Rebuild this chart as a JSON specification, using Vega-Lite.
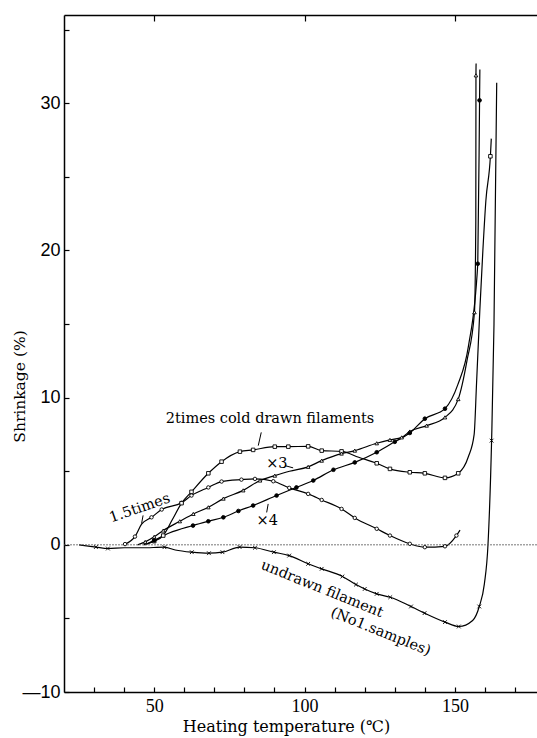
{
  "$schema": "https://vega.github.io/schema/vega-lite/v6.json",
  "width": 473,
  "height": 677,
  "autosize": "none",
  "padding": {"left": 64, "top": 15, "right": 0, "bottom": 46},
  "background": "white",
  "config": {
    "view": {"stroke": null},
    "axis": {"domainColor": "black", "domainWidth": 1.5, "tickColor": "black", "tickWidth": 1.2, "grid": false, "labelColor": "black", "titleColor": "black"}
  },
  "datasets": {
    "curves": [
      {"series": "1.5times", "t": 40.3, "s": 0.05, "m": true},
      {"series": "1.5times", "t": 43.6, "s": 0.56, "m": true},
      {"series": "1.5times", "t": 45.8, "s": 1.4, "m": false},
      {"series": "1.5times", "t": 49.1, "s": 1.87, "m": true},
      {"series": "1.5times", "t": 52.5, "s": 2.4, "m": true},
      {"series": "1.5times", "t": 59.1, "s": 2.85, "m": true},
      {"series": "1.5times", "t": 62.4, "s": 3.35, "m": true},
      {"series": "1.5times", "t": 68.0, "s": 3.9, "m": true},
      {"series": "1.5times", "t": 72.4, "s": 4.3, "m": true},
      {"series": "1.5times", "t": 79.0, "s": 4.43, "m": true},
      {"series": "1.5times", "t": 83.5, "s": 4.48, "m": true},
      {"series": "1.5times", "t": 89.6, "s": 4.32, "m": true},
      {"series": "1.5times", "t": 94.9, "s": 3.87, "m": true},
      {"series": "1.5times", "t": 101.2, "s": 3.46, "m": true},
      {"series": "1.5times", "t": 105.7, "s": 3.05, "m": true},
      {"series": "1.5times", "t": 112.3, "s": 2.44, "m": true},
      {"series": "1.5times", "t": 116.7, "s": 1.83, "m": true},
      {"series": "1.5times", "t": 124.0, "s": 1.09, "m": true},
      {"series": "1.5times", "t": 128.4, "s": 0.63, "m": true},
      {"series": "1.5times", "t": 135.0, "s": 0.07, "m": true},
      {"series": "1.5times", "t": 140.0, "s": -0.16, "m": true},
      {"series": "1.5times", "t": 146.7, "s": -0.1, "m": true},
      {"series": "1.5times", "t": 150.5, "s": 0.63, "m": true},
      {"series": "1.5times", "t": 151.7, "s": 1.0, "m": false},

      {"series": "2times", "t": 46.5, "s": 0.0, "m": false},
      {"series": "2times", "t": 50.0, "s": 0.25, "m": true},
      {"series": "2times", "t": 53.0, "s": 0.63, "m": true},
      {"series": "2times", "t": 56.0, "s": 1.7, "m": false},
      {"series": "2times", "t": 59.1, "s": 2.83, "m": true},
      {"series": "2times", "t": 62.4, "s": 3.6, "m": true},
      {"series": "2times", "t": 68.0, "s": 4.86, "m": true},
      {"series": "2times", "t": 72.4, "s": 5.65, "m": true},
      {"series": "2times", "t": 78.5, "s": 6.33, "m": true},
      {"series": "2times", "t": 82.9, "s": 6.45, "m": true},
      {"series": "2times", "t": 90.1, "s": 6.67, "m": true},
      {"series": "2times", "t": 94.6, "s": 6.67, "m": true},
      {"series": "2times", "t": 101.2, "s": 6.69, "m": true},
      {"series": "2times", "t": 105.7, "s": 6.4, "m": true},
      {"series": "2times", "t": 112.3, "s": 6.35, "m": true},
      {"series": "2times", "t": 118.0, "s": 5.95, "m": false},
      {"series": "2times", "t": 124.0, "s": 5.54, "m": true},
      {"series": "2times", "t": 128.4, "s": 5.16, "m": true},
      {"series": "2times", "t": 135.0, "s": 4.93, "m": true},
      {"series": "2times", "t": 140.0, "s": 4.86, "m": true},
      {"series": "2times", "t": 146.7, "s": 4.55, "m": true},
      {"series": "2times", "t": 151.1, "s": 4.86, "m": true},
      {"series": "2times", "t": 154.5, "s": 6.0, "m": false},
      {"series": "2times", "t": 156.4, "s": 7.5, "m": false},
      {"series": "2times", "t": 157.2, "s": 11.0, "m": false},
      {"series": "2times", "t": 158.3, "s": 16.0, "m": false},
      {"series": "2times", "t": 159.3, "s": 20.0, "m": false},
      {"series": "2times", "t": 160.3, "s": 23.4, "m": false},
      {"series": "2times", "t": 161.8, "s": 26.4, "m": true},
      {"series": "2times", "t": 162.1, "s": 27.6, "m": false},

      {"series": "x3", "t": 44.5, "s": 0.0, "m": false},
      {"series": "x3", "t": 47.0, "s": 0.2, "m": true},
      {"series": "x3", "t": 50.0, "s": 0.55, "m": true},
      {"series": "x3", "t": 53.0, "s": 0.97, "m": true},
      {"series": "x3", "t": 58.5, "s": 1.6, "m": true},
      {"series": "x3", "t": 63.0, "s": 2.1, "m": true},
      {"series": "x3", "t": 68.0, "s": 2.55, "m": true},
      {"series": "x3", "t": 73.0, "s": 3.14, "m": true},
      {"series": "x3", "t": 79.6, "s": 3.7, "m": true},
      {"series": "x3", "t": 85.2, "s": 4.37, "m": true},
      {"series": "x3", "t": 90.1, "s": 4.7, "m": true},
      {"series": "x3", "t": 95.0, "s": 5.0, "m": false},
      {"series": "x3", "t": 101.2, "s": 5.3, "m": true},
      {"series": "x3", "t": 105.7, "s": 5.72, "m": true},
      {"series": "x3", "t": 112.3, "s": 6.2, "m": true},
      {"series": "x3", "t": 116.7, "s": 6.4, "m": true},
      {"series": "x3", "t": 124.0, "s": 6.9, "m": true},
      {"series": "x3", "t": 128.4, "s": 7.13, "m": true},
      {"series": "x3", "t": 132.3, "s": 7.3, "m": true},
      {"series": "x3", "t": 135.0, "s": 7.7, "m": true},
      {"series": "x3", "t": 140.6, "s": 8.1, "m": true},
      {"series": "x3", "t": 146.7, "s": 8.66, "m": true},
      {"series": "x3", "t": 151.1, "s": 9.9, "m": true},
      {"series": "x3", "t": 154.0, "s": 12.5, "m": false},
      {"series": "x3", "t": 156.5, "s": 15.8, "m": true},
      {"series": "x3", "t": 156.95, "s": 22.0, "m": false},
      {"series": "x3", "t": 157.0, "s": 31.9, "m": true},
      {"series": "x3", "t": 157.05, "s": 32.7, "m": false},

      {"series": "x4", "t": 47.0, "s": 0.0, "m": false},
      {"series": "x4", "t": 50.0, "s": 0.3, "m": true},
      {"series": "x4", "t": 55.0, "s": 0.8, "m": false},
      {"series": "x4", "t": 62.9, "s": 1.31, "m": true},
      {"series": "x4", "t": 68.0, "s": 1.6, "m": true},
      {"series": "x4", "t": 73.0, "s": 1.87, "m": true},
      {"series": "x4", "t": 78.0, "s": 2.3, "m": true},
      {"series": "x4", "t": 82.9, "s": 2.67, "m": true},
      {"series": "x4", "t": 90.7, "s": 3.35, "m": true},
      {"series": "x4", "t": 97.3, "s": 3.9, "m": true},
      {"series": "x4", "t": 102.9, "s": 4.37, "m": true},
      {"series": "x4", "t": 109.6, "s": 5.1, "m": true},
      {"series": "x4", "t": 116.7, "s": 5.6, "m": true},
      {"series": "x4", "t": 124.0, "s": 6.29, "m": true},
      {"series": "x4", "t": 130.0, "s": 7.0, "m": true},
      {"series": "x4", "t": 135.0, "s": 7.6, "m": true},
      {"series": "x4", "t": 140.0, "s": 8.57, "m": true},
      {"series": "x4", "t": 146.7, "s": 9.25, "m": true},
      {"series": "x4", "t": 151.0, "s": 10.9, "m": false},
      {"series": "x4", "t": 154.5, "s": 13.5, "m": false},
      {"series": "x4", "t": 157.6, "s": 19.1, "m": true},
      {"series": "x4", "t": 158.2, "s": 30.2, "m": true},
      {"series": "x4", "t": 158.3, "s": 32.3, "m": false},

      {"series": "undrawn", "t": 25.0, "s": 0.0, "m": false},
      {"series": "undrawn", "t": 30.6, "s": -0.15, "m": true},
      {"series": "undrawn", "t": 34.6, "s": -0.25, "m": true},
      {"series": "undrawn", "t": 40.0, "s": -0.2, "m": false},
      {"series": "undrawn", "t": 46.0, "s": -0.2, "m": false},
      {"series": "undrawn", "t": 53.4, "s": -0.16, "m": true},
      {"series": "undrawn", "t": 57.0, "s": -0.35, "m": false},
      {"series": "undrawn", "t": 62.5, "s": -0.5, "m": true},
      {"series": "undrawn", "t": 68.2, "s": -0.57, "m": true},
      {"series": "undrawn", "t": 72.7, "s": -0.5, "m": true},
      {"series": "undrawn", "t": 78.4, "s": -0.15, "m": true},
      {"series": "undrawn", "t": 83.5, "s": -0.2, "m": true},
      {"series": "undrawn", "t": 89.8, "s": -0.5, "m": true},
      {"series": "undrawn", "t": 94.9, "s": -0.73, "m": true},
      {"series": "undrawn", "t": 101.2, "s": -1.29, "m": true},
      {"series": "undrawn", "t": 105.7, "s": -1.63, "m": true},
      {"series": "undrawn", "t": 112.6, "s": -2.15, "m": true},
      {"series": "undrawn", "t": 117.1, "s": -2.7, "m": true},
      {"series": "undrawn", "t": 120.0, "s": -3.0, "m": true},
      {"series": "undrawn", "t": 124.0, "s": -3.33, "m": true},
      {"series": "undrawn", "t": 128.5, "s": -3.56, "m": true},
      {"series": "undrawn", "t": 135.4, "s": -4.19, "m": true},
      {"series": "undrawn", "t": 139.9, "s": -4.64, "m": true},
      {"series": "undrawn", "t": 146.7, "s": -5.25, "m": true},
      {"series": "undrawn", "t": 151.3, "s": -5.55, "m": true},
      {"series": "undrawn", "t": 155.9, "s": -5.14, "m": false},
      {"series": "undrawn", "t": 158.1, "s": -4.19, "m": true},
      {"series": "undrawn", "t": 159.8, "s": -2.65, "m": false},
      {"series": "undrawn", "t": 161.0, "s": 0.0, "m": false},
      {"series": "undrawn", "t": 162.2, "s": 7.08, "m": true},
      {"series": "undrawn", "t": 163.0, "s": 15.0, "m": false},
      {"series": "undrawn", "t": 163.9, "s": 31.4, "m": false}
    ],
    "labels": [
      {"t": 88.5, "s": 8.57, "text": "2times cold drawn filaments"},
      {"t": 90.8, "s": 5.52, "text": "×3"},
      {"t": 87.6, "s": 1.65, "text": "×4"}
    ],
    "pointers": [
      {"t": 85.6, "s": 7.64, "t2": 84.6, "s2": 6.74},
      {"t": 93.5, "s": 5.38, "t2": 96.2, "s2": 5.23},
      {"t": 87.4, "s": 2.2, "t2": 87.9, "s2": 2.78},
      {"t": 45.8, "s": 1.45, "t2": 46.3, "s2": 2.0}
    ]
  },
  "layer": [
    {
      "data": {"name": "curves"},
      "mark": {"type": "line", "color": "black", "strokeWidth": 1.2, "interpolate": "monotone"},
      "encoding": {
        "x": {
          "field": "t", "type": "quantitative",
          "scale": {"domain": [20, 177.3], "nice": false, "zero": false},
          "axis": {
            "orient": "bottom",
            "values": [50, 100, 150],
            "ticks": false, "labelPadding": 5,
            "labelFont": "Liberation Serif", "labelFontSize": 18,
            "title": "Heating temperature (℃)",
            "titleFont": "DejaVu Serif", "titleFontSize": 16, "titleFontWeight": "normal",
            "titleX": 222, "titleY": 39, "titleBaseline": "alphabetic", "titleAnchor": "middle"
          }
        },
        "y": {
          "field": "s", "type": "quantitative",
          "scale": {"domain": [-10, 36], "nice": false, "zero": false},
          "axis": {
            "orient": "left",
            "values": [-10, 0, 10, 20, 30],
            "labelExpr": "datum.value == -10 ? '—10' : datum.label",
            "ticks": false, "labelPadding": 4,
            "labelFont": "Liberation Sans Narrow, Liberation Sans", "labelFontSize": 18,
            "title": "Shrinkage (%)",
            "titleFont": "DejaVu Serif", "titleFontSize": 15.5, "titleFontWeight": "normal",
            "titleX": -45, "titleY": 371, "titleBaseline": "middle", "titleAngle": -90
          }
        },
        "detail": {"field": "series", "type": "nominal"}
      }
    },
    {
      "data": {"values": [{"s": 0}]},
      "mark": {"type": "rule", "color": "#555555", "strokeWidth": 0.8, "strokeDash": [2, 1]},
      "encoding": {"y": {"field": "s", "type": "quantitative", "axis": null}}
    },
    {
      "data": {"name": "curves"},
      "transform": [{"filter": "datum.m"}],
      "mark": {"type": "point", "filled": true, "stroke": "black", "strokeWidth": 0.9, "opacity": 1},
      "encoding": {
        "x": {
          "field": "t", "type": "quantitative",
          "axis": {"orient": "top", "offset": -677, "values": [30, 40, 50, 60, 70, 80, 90, 100, 110, 120, 130, 140, 150, 160, 170], "labels": false, "domain": false, "tickSize": 5, "title": null}
        },
        "y": {
          "field": "s", "type": "quantitative",
          "axis": {"orient": "right", "offset": -473, "values": [-10, -5, 0, 5, 10, 15, 20, 25, 30, 35], "labels": false, "domain": false, "tickSize": 5, "title": null}
        },
        "shape": {
          "field": "series", "type": "nominal", "legend": null,
          "scale": {
            "domain": ["1.5times", "2times", "x3", "x4", "undrawn"],
            "range": ["circle", "square", "triangle-up", "circle", "M-1,-1L1,1M-1,1L1,-1"]
          }
        },
        "fill": {
          "field": "series", "type": "nominal", "legend": null,
          "scale": {
            "domain": ["1.5times", "2times", "x3", "x4", "undrawn"],
            "range": ["white", "white", "white", "black", "white"]
          }
        },
        "size": {
          "field": "series", "type": "nominal", "legend": null,
          "scale": {
            "domain": ["1.5times", "2times", "x3", "x4", "undrawn"],
            "range": [12, 14, 14, 7, 7]
          }
        }
      }
    },
    {
      "data": {"name": "pointers"},
      "mark": {"type": "rule", "color": "black", "strokeWidth": 1},
      "encoding": {
        "x": {
          "field": "t", "type": "quantitative",
          "axis": {"orient": "bottom", "offset": -677, "values": [50, 100, 150], "labels": false, "domain": true, "tickSize": 6, "title": null}
        },
        "y": {"field": "s", "type": "quantitative", "axis": null},
        "x2": {"field": "t2"},
        "y2": {"field": "s2"}
      }
    },
    {
      "data": {"name": "labels"},
      "mark": {"type": "text", "font": "DejaVu Serif", "fontSize": 14.5, "color": "black", "align": "center", "baseline": "middle"},
      "encoding": {
        "x": {"field": "t", "type": "quantitative", "axis": null},
        "y": {"field": "s", "type": "quantitative", "axis": null},
        "text": {"field": "text"}
      }
    },
    {
      "data": {"values": [{"t": 45.2, "s": 2.47, "text": "1.5times"}]},
      "mark": {"type": "text", "font": "DejaVu Serif", "fontSize": 14.5, "color": "black", "align": "center", "baseline": "middle", "angle": 341},
      "encoding": {
        "x": {"field": "t", "type": "quantitative", "axis": null},
        "y": {"field": "s", "type": "quantitative", "axis": null},
        "text": {"field": "text"}
      }
    },
    {
      "data": {"values": [
        {"t": 105.8, "s": -3.02, "text": "undrawn filament"},
        {"t": 125.3, "s": -5.93, "text": "(No1.samples)"}
      ]},
      "mark": {"type": "text", "font": "DejaVu Serif", "fontSize": 14.5, "color": "black", "align": "center", "baseline": "middle", "angle": 22},
      "encoding": {
        "x": {"field": "t", "type": "quantitative", "axis": null},
        "y": {"field": "s", "type": "quantitative", "axis": null},
        "text": {"field": "text"}
      }
    }
  ],
  "resolve": {"axis": {"x": "independent", "y": "independent"}}
}
